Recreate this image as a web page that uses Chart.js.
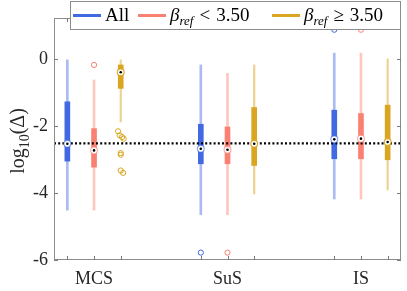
<!DOCTYPE html>
<html>
<head>
<meta charset="utf-8">
<script src="https://cdn.jsdelivr.net/npm/chart.js@4/dist/chart.umd.min.js"></script>
<style>
  html, body { margin: 0; padding: 0; background: #fff; }
  #wrap { width: 407px; height: 291px; }
</style>
</head>
<body>
<div id="wrap"><canvas id="chart" width="407" height="291"></canvas></div>
<script>
// groups and their slot on the x axis
const categories = ['MCS', 'SuS', 'IS'];
const groupCenters = [2, 7, 12];
const slotOffsets = [-1, 0, 1];

// series: All
const allLow = [-4.51, -4.65, -4.18];
const allQ1 = [-3.05, -3.13, -2.98];
const allMed = [-2.53, -2.68, -2.40];
const allQ3 = [-1.28, -1.95, -1.53];
const allHigh = [-0.03, -0.18, 0.17];
const allOut = [[], [-5.78], [0.87]];

// series: beta_ref < 3.50
const lowLow = [-4.51, -4.65, -4.18];
const lowQ1 = [-3.23, -3.13, -2.98];
const lowMed = [-2.73, -2.71, -2.38];
const lowQ3 = [-2.08, -2.03, -1.63];
const lowHigh = [-0.63, -0.43, 0.17];
const lowOut = [[-0.18], [-5.78], [0.87]];

// series: beta_ref >= 3.50
const highLow = [-1.88, -4.03, -3.91];
const highQ1 = [-0.88, -3.18, -3.01];
const highMed = [-0.40, -2.53, -2.48];
const highQ3 = [-0.18, -1.45, -1.38];
const highHigh = [-0.03, -0.18, 0.00];
const highOut = [[-2.16, -2.28, -2.33, -2.38, -2.81, -2.86, -3.33, -3.40], [], []];
const highOutJitter = [[-0.1, -0.04, 0.05, 0.11, 0, 0, 0, 0.09], [], []];

const refLevel = -2.52;
const yTicks = [-6, -4, -2, 0];

const colors = ['#4169E1', '#FA8072', '#DAA520'];
const lightColors = ['rgba(65,105,225,0.45)', 'rgba(250,128,114,0.45)', 'rgba(218,165,32,0.5)'];
const ringColors = ['rgba(65,105,225,0.6)', 'rgba(250,128,114,0.6)', 'rgba(218,165,32,0.9)'];

const series = [
  { low: allLow, q1: allQ1, med: allMed, q3: allQ3, high: allHigh, out: allOut, jitter: null },
  { low: lowLow, q1: lowQ1, med: lowMed, q3: lowQ3, high: lowHigh, out: lowOut, jitter: null },
  { low: highLow, q1: highQ1, med: highMed, q3: highQ3, high: highHigh, out: highOut, jitter: highOutJitter }
];

const FONT = "'Liberation Serif', 'DejaVu Serif', serif";

const datasets = [];
series.forEach((s, si) => {
  const xs = groupCenters.map(c => c + slotOffsets[si]);
  datasets.push({
    type: 'bar', grouped: false, order: 6, barThickness: si === 2 ? 1.5 : 2,
    backgroundColor: lightColors[si],
    data: xs.map((x, i) => ({ x: x, y: [s.low[i], s.high[i]] }))
  });
  datasets.push({
    type: 'bar', grouped: false, order: 5, barThickness: 5,
    backgroundColor: colors[si],
    data: xs.map((x, i) => ({ x: x, y: [s.q1[i], s.q3[i]] }))
  });
  const outPts = [];
  xs.forEach((x, i) => {
    s.out[i].forEach((v, k) => {
      outPts.push({ x: x + (s.jitter ? s.jitter[i][k] : 0), y: v });
    });
  });
  datasets.push({
    type: 'scatter', order: 3, data: outPts,
    pointRadius: 2.6, borderWidth: 1, borderColor: colors[si],
    backgroundColor: 'rgba(0,0,0,0)'
  });
  datasets.push({
    type: 'scatter', order: 2,
    data: xs.map((x, i) => ({ x: x, y: s.med[i] })),
    pointRadius: 3.4, borderWidth: 1.2, borderColor: ringColors[si],
    backgroundColor: '#fff'
  });
  datasets.push({
    type: 'scatter', order: 1,
    data: xs.map((x, i) => ({ x: x, y: s.med[i] })),
    pointRadius: 1.3, borderWidth: 0, backgroundColor: '#000'
  });
});
datasets.push({
  type: 'line', order: 4,
  data: [{ x: 0.5, y: refLevel }, { x: 13.5, y: refLevel }],
  borderColor: '#000', borderWidth: 2.2, borderDash: [2, 2.2],
  pointRadius: 0, fill: false
});

// frame, inside ticks, axis title, legend
const decorations = {
  id: 'decorations',
  afterDraw(chart) {
    const ctx = chart.ctx;
    const a = chart.chartArea;
    const xs = chart.scales.x, ys = chart.scales.y;
    ctx.save();
    ctx.strokeStyle = '#8c8c8c';
    ctx.lineWidth = 1;
    ctx.strokeRect(a.left + 0.5, a.top + 0.5, a.right - a.left - 1, a.bottom - a.top - 1);
    ctx.strokeStyle = '#7a7a7a';
    ctx.beginPath();
    yTicks.forEach(v => {
      const y = Math.round(ys.getPixelForValue(v)) + 0.5;
      ctx.moveTo(a.left, y); ctx.lineTo(a.left + 4, y);
      ctx.moveTo(a.right, y); ctx.lineTo(a.right - 4, y);
    });
    groupCenters.forEach(c => slotOffsets.forEach(o => {
      const x = Math.round(xs.getPixelForValue(c + o)) + 0.5;
      ctx.moveTo(x, a.bottom); ctx.lineTo(x, a.bottom - 4);
      ctx.moveTo(x, a.top); ctx.lineTo(x, a.top + 4);
    }));
    ctx.stroke();

    // y axis title log10(Δ)
    ctx.fillStyle = '#262626';
    ctx.translate(24, 141);
    ctx.rotate(-Math.PI / 2);
    ctx.textBaseline = 'alphabetic';
    const big = '20px ' + FONT, small = '14px ' + FONT;
    ctx.font = big; const w1 = ctx.measureText('log').width;
    ctx.font = small; const w2 = ctx.measureText('10').width;
    ctx.font = big; const w3 = ctx.measureText('(Δ)').width;
    let x0 = -(w1 + w2 + w3) / 2;
    ctx.font = big; ctx.fillText('log', x0, 0);
    ctx.font = small; ctx.fillText('10', x0 + w1, 5);
    ctx.font = big; ctx.fillText('(Δ)', x0 + w1 + w2, 0);
    ctx.restore();

    // legend box
    ctx.save();
    ctx.fillStyle = '#fff';
    ctx.fillRect(70, 1, 330, 28);
    ctx.strokeStyle = '#8c8c8c';
    ctx.lineWidth = 1;
    ctx.strokeRect(70.5, 1.5, 330, 28);
    const labels = [
      [{ t: 'All', f: '19px ' + FONT }],
      [{ t: 'β', f: 'italic 19px ' + FONT }, { t: 'ref', f: 'italic 13px ' + FONT, dy: 4 }, { t: '<', f: '19px ' + FONT, gap: 6 }, { t: '3.50', f: '19px ' + FONT, gap: 6 }],
      [{ t: 'β', f: 'italic 19px ' + FONT }, { t: 'ref', f: 'italic 13px ' + FONT, dy: 4 }, { t: '≥', f: '19px ' + FONT, gap: 6 }, { t: '3.50', f: '19px ' + FONT, gap: 6 }]
    ];
    const lineStarts = [73, 138, 272];
    labels.forEach((parts, i) => {
      const lx = lineStarts[i];
      ctx.strokeStyle = colors[i];
      ctx.lineWidth = 3;
      ctx.beginPath(); ctx.moveTo(lx, 15.5); ctx.lineTo(lx + 28, 15.5); ctx.stroke();
      let tx = lx + 32;
      ctx.fillStyle = '#000';
      parts.forEach(p => {
        ctx.font = p.f;
        tx += p.gap || 0;
        ctx.fillText(p.t, tx, 21 + (p.dy || 0));
        tx += ctx.measureText(p.t).width;
      });
    });
    ctx.restore();
  }
};

new Chart(document.getElementById('chart').getContext('2d'), {
  type: 'bar',
  data: { datasets: datasets },
  options: {
    responsive: false,
    animation: false,
    layout: { padding: { top: 18, right: 6, left: 0, bottom: 0 } },
    plugins: { legend: { display: false }, tooltip: { enabled: false } },
    scales: {
      x: {
        type: 'linear', min: 0.5, max: 13.5, offset: false,
        afterBuildTicks: s => { s.ticks = groupCenters.map(v => ({ value: v })); },
        afterFit: s => { s.height = 31; },
        grid: { display: false, drawTicks: false, offset: false },
        border: { display: false },
        ticks: {
          padding: 8, color: '#262626', font: { family: FONT, size: 18 },
          maxRotation: 0,
          callback: v => categories[groupCenters.indexOf(v)] || ''
        }
      },
      y: {
        type: 'linear', min: -6, max: 1.22,
        afterBuildTicks: s => { s.ticks = yTicks.map(v => ({ value: v })); },
        afterFit: s => { s.width = 54; },
        grid: { display: false, drawTicks: false },
        border: { display: false },
        ticks: {
          padding: 6, color: '#262626', font: { family: FONT, size: 18 },
          callback: v => String(v)
        }
      }
    }
  },
  plugins: [decorations]
});
</script>
</body>
</html>
